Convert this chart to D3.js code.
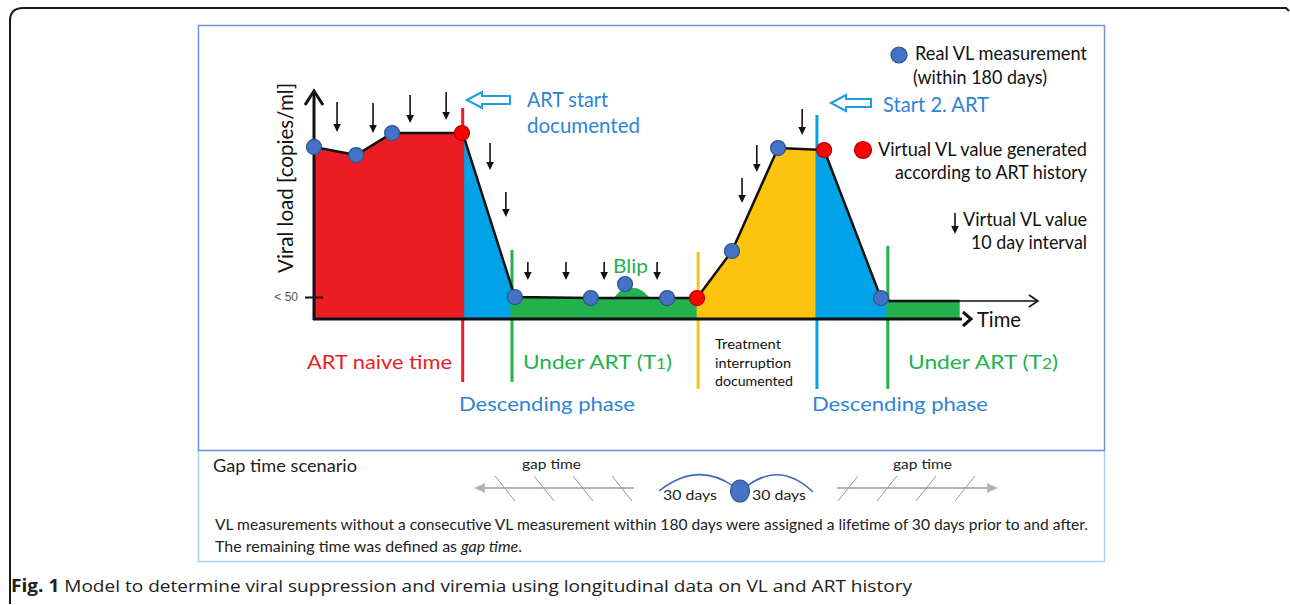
<!DOCTYPE html>
<html><head><meta charset="utf-8">
<script src="https://cdn.jsdelivr.net/npm/d3@7"></script>
<style>body{margin:0;background:#fff}svg{display:block}</style>
</head><body>
<svg id="c" width="1290" height="605"></svg>
<script>
// ---------- data (schematic units) ----------
const vlTime  = [0, 11.7, 21.7, 41.3, 55.8, 76.9, 98.1, 106.4, 116.1, 128.9, 141.7, 157.5, 160, 179.4];
const vlValue = [78.2, 74.5, 84.5, 84.5, 10, 9.5, 9.5, 9.5, 30.9, 77.7, 76.8, 9.5, 8.2, 8.2];
const tailTime = [179.4, 201.1];
const tailValue = [8.2, 8.2];
const blipTime  = [83.3, 85, 88, 91, 93.3];
const blipValue = [9.5, 13.2, 14.6, 13.6, 9.5];
const realTime  = [0, 11.7, 21.7, 55.8, 76.9, 86.4, 98.1, 116.1, 128.9, 157.5];
const realValue = [78.2, 74.5, 84.5, 10, 9.5, 15.9, 9.5, 30.9, 77.7, 9.5];
const virtTime  = [41.1, 106.4, 141.7];
const virtValue = [84.5, 9.5, 76.8];
const arrowTime = [6.4, 16.4, 26.7, 36.7, 48.9, 53.3, 59.4, 70, 80.6, 95.3, 118.9, 123, 135.6];
const arrowTop  = [98.6, 98.2, 101.8, 103.2, 80, 57.7, 25.9, 25.9, 25.9, 25.9, 64.1, 79.1, 95.5];
const arrowTip  = [85, 84.5, 89.1, 90.5, 67.7, 46.4, 17.7, 17.7, 17.7, 17.7, 52.7, 66.8, 83.6];
const phaseStart = [0, 41.3, 55, 106.7, 139.7, 159.4];
const phaseEnd   = [41.3, 55, 106.7, 139.7, 159.4, 179.4];
const phaseColor = ["#ed1c24", "#00a2e8", "#22b14c", "#fdc40f", "#00a2e8", "#22b14c"];
const markerTime   = [41.3, 55, 106.7, 139.7, 159.4];
const markerTop    = [95.9, 31.4, 30.5, 92.7, 33.2];
const markerBottom = [-28.6, -28.6, -31.8, -31.8, -31.8];
const markerColor  = ["#ed1c24", "#22b14c", "#ffc20e", "#00a2e8", "#22b14c"];
const yTickValues = [10];
const yTickLabels = ["< 50"];

// ---------- setup ----------
const svg = d3.select("#c");
const x = d3.scaleLinear().domain([0, 180]).range([314, 962]);
const y = d3.scaleLinear().domain([0, 100]).range([319, 99]);
const FONT = "Lato, 'Open Sans', sans-serif";

function txt(s, px, py, o) {
  o = o || {};
  const t = svg.append("text")
    .attr("x", px).attr("y", py)
    .attr("font-family", o.font || FONT)
    .attr("font-size", o.size || 20)
    .attr("fill", o.color || "#111")
    .attr("text-anchor", o.anchor || "start");
  if (o.weight) t.attr("font-weight", o.weight);
  if (o.rotate) t.attr("transform", `rotate(${o.rotate},${px},${py})`);
  if (Array.isArray(s)) {
    s.forEach(p => {
      const ts = t.append("tspan").text(p.t);
      if (p.w) ts.attr("font-weight", p.w);
      if (p.s) ts.attr("font-size", p.s);
      if (p.i) ts.attr("font-style", "italic");
    });
  } else t.text(s);
  if (o.width) t.attr("textLength", o.width).attr("lengthAdjust", "spacingAndGlyphs");
  return t;
}

// ---------- frames ----------
svg.append("path").attr("d", "M10,604 L10,21 Q10,8 23,8 L1286,8 L1289,11")
  .attr("fill", "none").attr("stroke", "#1a1a1a").attr("stroke-width", 2);
svg.append("rect").attr("x", 198.5).attr("y", 450.5).attr("width", 906).attr("height", 111)
  .attr("fill", "none").attr("stroke", "#a8d0f2").attr("stroke-width", 1.5);
svg.append("rect").attr("x", 198.5).attr("y", 25.5).attr("width", 906).attr("height", 425)
  .attr("fill", "none").attr("stroke", "#7095dc").attr("stroke-width", 1.5);

// ---------- phase fills ----------
const pts = vlTime.map((t, i) => [t, vlValue[i]]);
const area = d3.area().x(d => x(d[0])).y0(y(0)).y1(d => y(d[1]));
const defs = svg.append("defs");
phaseStart.forEach((s, i) => {
  defs.append("clipPath").attr("id", "ph" + i).append("rect")
    .attr("x", x(s)).attr("y", 0).attr("width", x(phaseEnd[i]) - x(s)).attr("height", 605);
  svg.append("path").attr("d", area(pts)).attr("fill", phaseColor[i])
    .attr("clip-path", `url(#ph${i})`);
});
// blip
const blipPts = blipTime.map((t, i) => [t, blipValue[i]]);
svg.append("path")
  .attr("d", d3.area().x(d => x(d[0])).y0(y(9.5)).y1(d => y(d[1])).curve(d3.curveBasis)(blipPts))
  .attr("fill", "#22b14c");

// ---------- phase marker lines ----------
markerTime.forEach((t, i) => {
  svg.append("line").attr("x1", x(t)).attr("x2", x(t))
    .attr("y1", y(markerTop[i])).attr("y2", y(markerBottom[i]))
    .attr("stroke", markerColor[i]).attr("stroke-width", 3);
});

// ---------- VL line ----------
const line = d3.line().x(d => x(d[0])).y(d => y(d[1]));
svg.append("path").attr("d", line(pts)).attr("fill", "none")
  .attr("stroke", "#111").attr("stroke-width", 2.5).attr("stroke-linejoin", "round");
const tail = tailTime.map((t, i) => [t, tailValue[i]]);
svg.append("path").attr("d", line(tail)).attr("fill", "none").attr("stroke", "#111").attr("stroke-width", 1.6);
const tx = x(tailTime[1]), ty = y(tailValue[1]);
svg.append("path").attr("d", `M${tx-9},${ty-6} L${tx},${ty} L${tx-9},${ty+6}`)
  .attr("fill", "none").attr("stroke", "#111").attr("stroke-width", 1.6);

// ---------- axes ----------
svg.append("line").attr("x1", x(0)).attr("x2", x(0)).attr("y1", y(0) + 1).attr("y2", 92)
  .attr("stroke", "#111").attr("stroke-width", 3);
svg.append("path").attr("d", `M${x(0)-9},105 L${x(0)},91 L${x(0)+9},105`)
  .attr("fill", "none").attr("stroke", "#111").attr("stroke-width", 3);
svg.append("line").attr("x1", x(0) - 1).attr("x2", x(180)).attr("y1", y(0)).attr("y2", y(0))
  .attr("stroke", "#111").attr("stroke-width", 3);
svg.append("path").attr("d", `M${x(180)+1},${y(0)-7} L${x(180)+9},${y(0)} L${x(180)+1},${y(0)+7}`)
  .attr("fill", "none").attr("stroke", "#111").attr("stroke-width", 3);
const yAxis = d3.axisLeft(y).tickValues(yTickValues).tickFormat((d, i) => yTickLabels[i])
  .tickSize(18).tickPadding(7);
const gy = svg.append("g").attr("transform", `translate(${x(0) + 9},0)`).call(yAxis);
gy.select(".domain").remove();
gy.selectAll(".tick line").attr("stroke", "#111").attr("stroke-width", 2);
gy.selectAll(".tick text").attr("font-family", "Arial, 'Liberation Sans', sans-serif")
  .attr("font-size", 12).attr("fill", "#555");

// ---------- down arrows (virtual VL, 10 day interval) ----------
function downArrow(px, yTop, yTipPx) {
  svg.append("line").attr("x1", px).attr("x2", px).attr("y1", yTop).attr("y2", yTipPx - 6)
    .attr("stroke", "#111").attr("stroke-width", 1.6);
  svg.append("path").attr("d", `M${px-3.8},${yTipPx-8} L${px+3.8},${yTipPx-8} L${px},${yTipPx} Z`)
    .attr("fill", "#111");
}
arrowTime.forEach((t, i) => downArrow(x(t), y(arrowTop[i]), y(arrowTip[i])));

// ---------- dots ----------
function dot(px, py, fill, stroke, r) {
  svg.append("circle").attr("cx", px).attr("cy", py).attr("r", r || 7.5)
    .attr("fill", fill).attr("stroke", stroke).attr("stroke-width", 1.2);
}
realTime.forEach((t, i) => dot(x(t), y(realValue[i]), "#4472c4", "#2f528f"));
virtTime.forEach((t, i) => dot(x(t), y(virtValue[i]), "#ff0000", "#b00000"));

// ---------- hollow arrows ----------
function hollowArrow(xt, yc, len) {
  svg.append("path")
    .attr("d", `M${xt},${yc} L${xt+15},${yc-8} L${xt+15},${yc-4} L${xt+len},${yc-4} L${xt+len},${yc+4} L${xt+15},${yc+4} L${xt+15},${yc+8} Z`)
    .attr("fill", "#fff").attr("stroke", "#1e9de2").attr("stroke-width", 2).attr("stroke-linejoin", "miter");
}
hollowArrow(467, 100, 43);
hollowArrow(831, 103, 40);

// ---------- texts in chart ----------
const BLUE = "#2f84d6", GREEN = "#22b14c", RED = "#ec1c24";
txt("Viral load [copies/ml]", 293, 273, { size: 21, rotate: -90, width: 190, color: "#111" });
txt("ART start", 527, 107, { size: 22, color: BLUE, width: 81 });
txt("documented", 527, 133, { size: 22, color: BLUE, width: 113 });
txt("Start 2. ART", 883, 112, { size: 22, color: BLUE, width: 106 });
txt("Real VL measurement", 915, 60, { size: 19, width: 172 });
txt("(within 180 days)", 913, 84, { size: 19, width: 134 });
txt("Virtual VL value generated", 878, 156, { size: 19, width: 209 });
txt("according to ART history", 1087, 179, { size: 19, anchor: "end", width: 192 });
txt("Virtual VL value", 1087, 226, { size: 19, anchor: "end", width: 124 });
txt("10 day interval", 1087, 249, { size: 19, anchor: "end", width: 116 });
txt("Blip", 613, 273, { size: 19, color: GREEN, width: 35 });
txt("Time", 977, 327, { size: 22, width: 44 });
dot(899, 55, "#4472c4", "#2f528f", 8);
dot(863, 150, "#ff0000", "#b00000", 8.5);
downArrow(955, 213, 234);

txt("ART naive time", 307, 369, { size: 20, color: RED, width: 145 });
txt([{ t: "Under ART (T" }, { t: "1", s: 15 }, { t: ")" }], 523, 369, { size: 20, color: GREEN, width: 149 });
txt("Descending phase", 459, 411, { size: 20, color: BLUE, width: 176 });
txt("Treatment", 715, 349, { size: 14, width: 66 });
txt("interruption", 715, 368, { size: 14, width: 76 });
txt("documented", 715, 386, { size: 14, width: 78 });
txt([{ t: "Under ART (T" }, { t: "2", s: 15 }, { t: ")" }], 908, 369, { size: 20, color: GREEN, width: 150 });
txt("Descending phase", 812, 411, { size: 20, color: BLUE, width: 176 });

// ---------- gap time scenario ----------
txt("Gap time scenario", 213, 472, { size: 17, color: "#222", width: 144 });
txt("gap time", 522, 469, { size: 14, color: "#222", width: 59 });
txt("gap time", 893, 469, { size: 14, color: "#222", width: 59 });
const GR = "#b3b3b3";
svg.append("line").attr("x1", 482).attr("x2", 634).attr("y1", 488).attr("y2", 488).attr("stroke", GR).attr("stroke-width", 2);
svg.append("path").attr("d", "M474,488 L485,483 L485,493 Z").attr("fill", GR);
svg.append("line").attr("x1", 837).attr("x2", 990).attr("y1", 488).attr("y2", 488).attr("stroke", GR).attr("stroke-width", 2);
svg.append("path").attr("d", "M998,488 L987,483 L987,493 Z").attr("fill", GR);
[495, 534, 573, 612].forEach(h => svg.append("line").attr("x1", h).attr("y1", 476).attr("x2", h + 20).attr("y2", 501)
  .attr("stroke", "#9a9a9a").attr("stroke-width", 1));
[838, 877, 916, 955].forEach(h => svg.append("line").attr("x1", h).attr("y1", 501).attr("x2", h + 20).attr("y2", 476)
  .attr("stroke", "#9a9a9a").attr("stroke-width", 1));
svg.append("path").attr("d", "M659,491 Q697,461 733,486").attr("fill", "none").attr("stroke", "#3a68bf").attr("stroke-width", 1.5);
svg.append("path").attr("d", "M747,486 Q780,461 813,492").attr("fill", "none").attr("stroke", "#3a68bf").attr("stroke-width", 1.5);
svg.append("ellipse").attr("cx", 740).attr("cy", 491).attr("rx", 9.5).attr("ry", 11)
  .attr("fill", "#4472c4").attr("stroke", "#2f528f").attr("stroke-width", 1.2);
txt("30 days", 663, 500, { size: 14, color: "#222", width: 54 });
txt("30 days", 752, 500, { size: 14, color: "#222", width: 54 });
txt("VL measurements without a consecutive VL measurement within 180 days were assigned a lifetime of 30 days prior to and after.",
  215, 530, { size: 15, color: "#222", width: 873 });
txt([{ t: "The remaining time was defined as " }, { t: "gap time", i: true }, { t: "." }], 215, 552, { size: 15, color: "#222", width: 307 });

// ---------- caption ----------
txt([{ t: "Fig. 1", w: "bold" }, { t: " Model to determine viral suppression and viremia using longitudinal data on VL and ART history" }],
  11, 592, { size: 17, color: "#222", font: "'Open Sans', sans-serif", width: 901 });
</script>
</body></html>
